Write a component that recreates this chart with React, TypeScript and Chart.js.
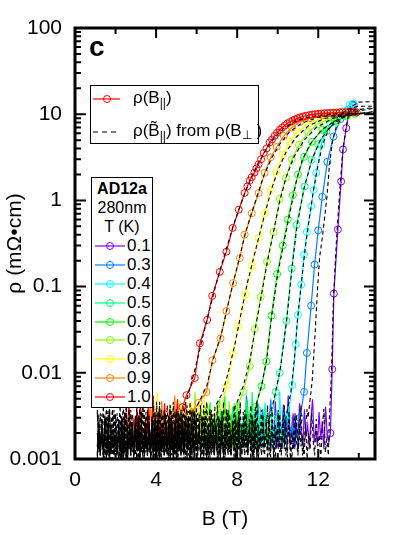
import React, { useEffect, useRef } from "react";
import { Chart, registerables } from "chart.js";

Chart.register(...registerables);

const FONT = "'Liberation Sans', Arial, Helvetica, sans-serif";

// Temperatures (K) and colours
const T_LABELS = ["0.1", "0.3", "0.4", "0.5", "0.6", "0.7", "0.8", "0.9", "1.0"];
const COLORS = ["#7f00ff", "#0080ff", "#00ffff", "#00ff80", "#00ff00", "#80ff00", "#ffff00", "#ff8000", "#ff0000"];

// rho(B||) measured, [B (T), rho (mOhm cm)]
const R01 = [[12.6, 0.002], [12.69, 0.011], [12.77, 0.083], [12.97, 0.46], [13.13, 1.66], [13.22, 3.9], [13.38, 6.9], [13.51, 10.2], [13.71, 12.9]];
const R03 = [[11.1, 0.003], [11.3, 0.006], [11.44, 0.017], [11.65, 0.06], [11.82, 0.18], [12.0, 0.45], [12.2, 1.1], [12.45, 2.8], [12.75, 5.5], [13.1, 8.8], [13.45, 11.2], [13.75, 12.6]];
const R04 = [[10.5, 0.003], [10.72, 0.0072], [10.89, 0.0214], [11.0, 0.047], [11.16, 0.105], [11.3, 0.234], [11.44, 0.43], [11.66, 0.86], [11.77, 1.32], [11.9, 2.09], [12.15, 4.47], [12.4, 6.3], [12.6, 7.8], [12.9, 9.3], [13.2, 10.8], [13.55, 12.8], [13.75, 13.3]];
const R05 = [[9.7, 0.003], [9.9, 0.006], [10.1, 0.01], [10.43, 0.04], [10.69, 0.162], [10.93, 0.52], [11.33, 1.45], [11.67, 2.95], [12.0, 4.5], [12.4, 6.3], [12.9, 8.2], [13.4, 9.6], [13.8, 10.5]];
const R06 = [[8.9, 0.004], [9.2, 0.007], [9.44, 0.0135], [9.69, 0.046], [9.97, 0.14], [10.25, 0.3], [10.5, 0.6], [10.75, 1.15], [11.0, 2.0], [11.3, 3.2], [11.7, 4.8], [12.2, 6.6], [12.8, 8.3], [13.4, 9.5], [13.8, 10.1]];
const R07 = [[8.0, 0.004], [8.3, 0.006], [8.62, 0.012], [8.87, 0.032], [9.16, 0.076], [9.47, 0.195], [9.8, 0.43], [10.1, 1.04], [10.4, 1.82], [10.7, 3.0], [11.05, 4.4], [11.5, 6.2], [12.0, 7.7], [12.6, 9.0], [13.3, 10.0], [13.8, 10.4]];
const R08 = [[6.7, 0.003], [7.2, 0.004], [7.5, 0.0072], [7.8, 0.017], [8.05, 0.035], [8.41, 0.081], [8.73, 0.174], [9.06, 0.37], [9.36, 0.71], [9.66, 1.32], [9.95, 2.14], [10.25, 3.4], [10.6, 4.8], [11.0, 6.2], [11.5, 7.7], [12.1, 8.9], [12.8, 9.8], [13.6, 10.4]];
const R09 = [[5.8, 0.0035], [6.1, 0.0045], [6.49, 0.006], [6.78, 0.014], [7.18, 0.025], [7.47, 0.052], [7.8, 0.11], [8.13, 0.214], [8.37, 0.4], [8.72, 0.71], [9.06, 1.22], [9.36, 2.09], [9.66, 3.16], [9.95, 4.17], [10.3, 5.6], [10.7, 7.0], [11.1, 8.1], [11.6, 9.0], [12.2, 9.7], [12.9, 10.2], [13.6, 10.5]];
const R10 = [[5.3, 0.004], [5.5, 0.0055], [5.91, 0.0087], [6.16, 0.022], [6.52, 0.041], [6.77, 0.078], [7.14, 0.148], [7.47, 0.254], [7.78, 0.48], [8.08, 0.78], [8.37, 1.22], [8.5, 1.45], [8.62, 1.7], [8.72, 1.86], [8.85, 2.1], [8.95, 2.35], [9.06, 2.63], [9.18, 3.0], [9.31, 3.55], [9.45, 4.0], [9.6, 4.7], [9.72, 5.1], [9.85, 5.6], [9.97, 6.1], [10.1, 6.6], [10.22, 7.0], [10.35, 7.4], [10.47, 7.8], [10.6, 8.1], [10.72, 8.4], [10.85, 8.7], [10.97, 8.95], [11.1, 9.2], [11.25, 9.4], [11.4, 9.6], [11.55, 9.75], [11.7, 9.9], [11.85, 10.0], [12.0, 10.1], [12.15, 10.2], [12.3, 10.25], [12.45, 10.3], [12.6, 10.35], [12.75, 10.4], [12.9, 10.45], [13.05, 10.5], [13.2, 10.5], [13.35, 10.55], [13.5, 10.6], [13.65, 10.6], [13.8, 10.6], [13.9, 10.5]];

// rho(B~||) from rho(B_perp), dashed
const D01 = [[12.55, 0.003], [12.65, 0.01], [12.75, 0.07], [12.9, 0.35], [13.05, 1.2], [13.2, 3.5], [13.35, 6.5], [13.5, 10.0], [13.7, 12.5], [14.0, 13.8], [14.8, 14.0]];
const D03 = [[11.5, 0.003], [11.7, 0.008], [11.85, 0.03], [11.97, 0.1], [12.07, 0.22], [12.23, 0.42], [12.43, 1.1], [12.56, 2.7], [12.7, 4.8], [12.89, 7.2], [13.2, 9.3], [13.6, 11.0], [14.8, 12.0]];
const D04 = [[10.4, 0.003], [10.65, 0.006], [10.82, 0.014], [10.97, 0.04], [11.15, 0.1], [11.35, 0.27], [11.55, 0.6], [11.75, 1.25], [11.95, 2.3], [12.2, 4.3], [12.5, 6.6], [12.9, 9.0], [13.4, 11.3], [13.9, 12.3], [14.8, 12.4]];
const D05 = [[9.6, 0.003], [9.9, 0.006], [10.15, 0.012], [10.45, 0.042], [10.7, 0.16], [10.95, 0.5], [11.3, 1.4], [11.7, 3.0], [12.1, 5.0], [12.6, 7.2], [13.2, 9.2], [13.9, 10.8], [14.8, 11.8]];
const D06 = [[8.9, 0.004], [9.2, 0.007], [9.45, 0.014], [9.7, 0.045], [10.0, 0.14], [10.3, 0.32], [10.6, 0.72], [10.9, 1.6], [11.2, 2.9], [11.6, 4.5], [12.2, 6.7], [13.0, 8.8], [13.8, 10.0], [14.8, 10.8]];
const D07 = [[7.9, 0.004], [8.3, 0.007], [8.6, 0.013], [8.9, 0.033], [9.2, 0.08], [9.5, 0.2], [9.8, 0.44], [10.1, 0.98], [10.4, 1.8], [10.8, 3.2], [11.3, 5.0], [11.9, 7.0], [12.7, 8.9], [13.6, 10.0], [14.8, 10.6]];
const D08 = [[6.9, 0.004], [7.3, 0.006], [7.6, 0.011], [7.9, 0.022], [8.2, 0.05], [8.5, 0.11], [8.8, 0.21], [9.1, 0.4], [9.4, 0.75], [9.7, 1.35], [10.0, 2.2], [10.4, 3.6], [10.9, 5.4], [11.5, 7.3], [12.3, 8.9], [13.3, 9.9], [14.8, 10.4]];
const D09 = [[6.0, 0.004], [6.5, 0.007], [6.8, 0.014], [7.2, 0.027], [7.5, 0.055], [7.8, 0.11], [8.1, 0.21], [8.4, 0.41], [8.7, 0.7], [9.0, 1.15], [9.3, 1.9], [9.7, 3.1], [10.1, 4.5], [10.6, 6.3], [11.2, 7.9], [12.0, 9.2], [13.0, 9.9], [14.8, 10.3]];
const D10 = [[5.4, 0.004], [5.7, 0.007], [6.0, 0.013], [6.3, 0.026], [6.6, 0.05], [6.9, 0.094], [7.2, 0.17], [7.5, 0.29], [7.8, 0.5], [8.1, 0.8], [8.4, 1.25], [8.7, 1.85], [9.0, 2.6], [9.4, 3.8], [9.8, 5.2], [10.3, 6.9], [10.9, 8.4], [11.6, 9.4], [12.5, 10.0], [13.5, 10.2], [14.8, 10.3]];

// Noise floor levels (units of 0.001 mOhm cm)
const NOISE = [1.3, 2.9, 1.05, 3.6, 1.6, 1.0, 2.2, 1.4, 3.3, 1.2, 1.8, 4.2, 1.1, 1.5, 2.6, 1.0, 2.0, 1.3, 3.4, 1.6, 1.1, 2.9, 1.4, 1.9, 1.0, 2.3, 3.8, 1.2, 1.7, 1.1, 2.7, 1.3, 2.1, 1.0, 3.1, 1.5, 1.2, 3.5, 1.4, 1.9, 1.1, 2.4, 1.6, 1.0, 2.8, 1.3, 4.6, 1.2, 1.8, 1.1, 2.6, 1.5, 2.0, 1.0, 3.2, 1.3, 1.7, 1.1, 2.5, 1.4, 3.7, 1.2, 1.6, 2.2];
const NOISE_START = 1.1;

const MEASURED = [R01, R03, R04, R05, R06, R07, R08, R09, R10];
const DERIVED = [D01, D03, D04, D05, D06, D07, D08, D09, D10];

const X_TICKS = [0, 4, 8, 12];
const X_MINOR = [2, 6, 10, 14];
const Y_TICKS = [0.001, 0.01, 0.1, 1, 10, 100];

function noise(from: number, to: number, step: number, offset: number, gain: number) {
  const pts: any[] = [];
  let k = 0;
  for (let b = from; b < to - 0.02; b += step, k++) {
    pts.push({ x: b, y: NOISE[(k + offset) % NOISE.length] * 0.001 * gain });
  }
  return pts;
}

const framePlugin = {
  id: "frame",
  afterDatasetsDraw(chart: any) {
    const { ctx, chartArea } = chart;
    const { left, right, top, bottom } = chartArea;
    const xs = chart.scales.x;
    const ys = chart.scales.y;
    ctx.save();
    ctx.strokeStyle = "#000";
    ctx.lineWidth = 2;
    ctx.beginPath();
    const tick = (x1: number, y1: number, x2: number, y2: number) => {
      ctx.moveTo(x1, y1);
      ctx.lineTo(x2, y2);
    };
    X_TICKS.forEach((v) => {
      const p = xs.getPixelForValue(v);
      tick(p, bottom, p, bottom - 10);
      tick(p, top, p, top + 10);
    });
    X_MINOR.forEach((v) => {
      const p = xs.getPixelForValue(v);
      tick(p, bottom, p, bottom - 6);
      tick(p, top, p, top + 6);
    });
    for (let d = -3; d <= 2; d++) {
      const base = Math.pow(10, d);
      const p = ys.getPixelForValue(base);
      tick(left, p, left + 11, p);
      tick(right, p, right - 11, p);
      if (d < 2) {
        for (let m = 2; m <= 9; m++) {
          const q = ys.getPixelForValue(base * m);
          tick(left, q, left + 6, q);
          tick(right, q, right - 6, q);
        }
      }
    }
    ctx.stroke();
    ctx.lineWidth = 3;
    ctx.strokeRect(left, top, right - left, bottom - top);
    ctx.restore();
  },
};

const tickFont = { family: FONT, size: 21 };

export default function App() {
  const ref = useRef<HTMLCanvasElement>(null);

  useEffect(() => {
    const datasets: any[] = [];
    MEASURED.forEach((curve, i) => {
      const first = curve[0][0];
      const from = Math.max(first - 2.8, 2.3);
      datasets.push({
        label: T_LABELS[i],
        data: [...noise(from, first, 0.08, i * 7 + 2, 1.3), ...curve.map(([x, y]) => ({ x, y, m: 1 }))],
        borderColor: COLORS[i],
        borderWidth: 1.2,
        pointRadius: (c: any) => (c.raw && c.raw.m ? 3.5 : 0),
        pointBorderColor: COLORS[i],
        pointBackgroundColor: "rgba(0,0,0,0)",
        pointBorderWidth: 1,
        order: 20 - i,
      });
    });
    DERIVED.forEach((curve, i) => {
      const first = curve[0][0];
      datasets.push({
        label: "d" + T_LABELS[i],
        data: [...noise(NOISE_START, first, 0.075, i * 11 + 5, 1.0), ...curve.map(([x, y]) => ({ x, y }))],
        borderColor: "#000",
        borderWidth: 1.1,
        borderDash: [4, 3],
        pointRadius: 0,
        order: 9 - i,
      });
    });

    const chart = new Chart(ref.current as HTMLCanvasElement, {
      type: "line",
      data: { datasets },
      plugins: [framePlugin],
      options: {
        animation: false,
        responsive: false,
        maintainAspectRatio: false,
        layout: { padding: { left: 0, top: 28, right: 23, bottom: 0 } },
        plugins: { legend: { display: false }, tooltip: { enabled: false } },
        elements: { line: { tension: 0 } },
        scales: {
          x: {
            type: "linear",
            min: 0,
            max: 14.8,
            afterBuildTicks: (s: any) => {
              s.ticks = X_TICKS.map((v) => ({ value: v }));
            },
            afterFit: (s: any) => {
              s.height = 76;
            },
            grid: { display: false, drawTicks: false },
            border: { display: false },
            ticks: { font: tickFont, color: "#000", padding: 9, maxRotation: 0, autoSkip: false, callback: (v: any) => String(v) },
            title: { display: true, text: "B (T)", font: tickFont, color: "#000", padding: { top: 3, bottom: 3 } },
          },
          y: {
            type: "logarithmic",
            min: 0.001,
            max: 100,
            afterBuildTicks: (s: any) => {
              s.ticks = Y_TICKS.map((v) => ({ value: v }));
            },
            afterFit: (s: any) => {
              s.width = 75;
            },
            grid: { display: false, drawTicks: false },
            border: { display: false },
            ticks: { font: tickFont, color: "#000", padding: 13, autoSkip: false, callback: (v: any) => String(v) },
            title: { display: true, text: "ρ (mΩ•cm)", font: tickFont, color: "#000", padding: { top: 3, bottom: 3 } },
          },
        },
      } as any,
    });
    return () => chart.destroy();
  }, []);

  const txt = (left: number, top: number, size: number, extra: any = {}) => ({
    position: "absolute" as const,
    left,
    top,
    fontFamily: FONT,
    fontSize: size,
    lineHeight: "20px",
    color: "#000",
    whiteSpace: "nowrap" as const,
    ...extra,
  });

  const rowY = [246, 265, 284, 302.5, 321.5, 340, 359, 378, 397];

  return (
    <div style={{ position: "fixed", left: 0, top: 0, width: 398, height: 535, background: "#fff", overflow: "hidden" }}>
      <canvas ref={ref} width={398} height={535} style={{ position: "absolute", left: 0, top: 0 }} />
      <div style={txt(89, 33, 28, { fontWeight: "bold", lineHeight: "28px" })}>c</div>

      {/* Legend 1 */}
      <div style={{ position: "absolute", left: 90, top: 85, width: 169, height: 59, border: "1px solid #000", background: "#fff", boxSizing: "border-box" }} />
      <svg style={{ position: "absolute", left: 93, top: 93 }} width={30} height={12}>
        <line x1={0} y1={6} x2={27} y2={6} stroke="#ff0000" strokeWidth={1.2} />
        <circle cx={14} cy={6} r={3.5} stroke="#ff0000" strokeWidth={1} fill="none" />
      </svg>
      <div style={txt(133, 88, 17)}>
        ρ(B<sub style={{ fontSize: 12, verticalAlign: "-4px" }}>||</sub>)
      </div>
      <svg style={{ position: "absolute", left: 93, top: 126 }} width={30} height={12}>
        <line x1={0} y1={6} x2={27} y2={6} stroke="#000" strokeWidth={1.1} strokeDasharray="5 4" />
      </svg>
      <div style={txt(133, 121, 17)}>
        ρ(B̃<sub style={{ fontSize: 12, verticalAlign: "-4px" }}>||</sub>) from ρ(B<sub style={{ fontSize: 12, verticalAlign: "-3px" }}>⊥</sub> )
      </div>

      {/* Legend 2 */}
      <div style={{ position: "absolute", left: 91, top: 177, width: 62, height: 231, border: "1px solid #000", background: "#fff", boxSizing: "border-box" }} />
      <div style={txt(91, 179, 16, { width: 62, textAlign: "center", fontWeight: "bold" })}>AD12a</div>
      <div style={txt(91, 198, 16, { width: 62, textAlign: "center" })}>280nm</div>
      <div style={txt(91, 217, 16, { width: 62, textAlign: "center" })}>T (K)</div>
      {T_LABELS.map((t, i) => (
        <React.Fragment key={t}>
          <svg style={{ position: "absolute", left: 95, top: rowY[i] - 6 }} width={31} height={12}>
            <line x1={0} y1={6} x2={30} y2={6} stroke={COLORS[i]} strokeWidth={1.2} />
            <circle cx={15} cy={6} r={3.5} stroke={COLORS[i]} strokeWidth={1} fill="none" />
          </svg>
          <div style={txt(127, rowY[i] - 10, 17)}>{t}</div>
        </React.Fragment>
      ))}
    </div>
  );
}
